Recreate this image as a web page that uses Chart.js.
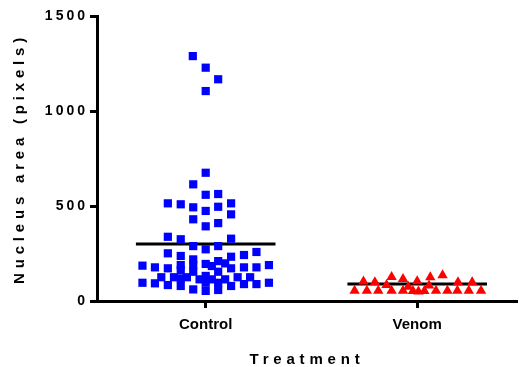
<!DOCTYPE html>
<html>
<head>
<meta charset="utf-8">
<script src="https://cdn.jsdelivr.net/npm/chart.js@4/dist/chart.umd.min.js"></script>
<style>
html,body{margin:0;padding:0;background:#fff;}
#wrap{width:523px;height:367px;position:relative;}
</style>
</head>
<body>
<div id="wrap"><canvas id="c"></canvas></div>
<script>
const categories = ['Control', 'Venom'];
const yTicks = [0, 500, 1000, 1500];
const means = [300, 90];

const controlValues = [1289,1228,1167,1105,
  675,614,559,563,
  514,509,493,474,496,514,
  456,430,410,393,
  338,325,328,
  289,272,289,251,237,233,242,258,
  186,177,172,189,219,189,195,210,198,172,177,177,189,163,154,184,154,
  125,125,119,125,114,132,114,114,125,125,
  96,93,84,79,96,96,79,89,89,96,
  61,53,58];
const controlJitter = [-0.061,0,0.059,0,
  0,-0.059,0,0.059,
  -0.179,-0.118,-0.059,0,0.059,0.120,
  0.120,-0.059,0.059,0,
  -0.179,-0.118,0.120,
  -0.059,0,0.059,-0.179,-0.118,0.120,0.181,0.240,
  -0.299,-0.240,-0.179,-0.118,-0.059,-0.059,0,0.059,0.092,0.120,0.181,0.240,0.299,-0.118,-0.059,0.029,0.059,
  -0.210,-0.150,-0.118,-0.089,-0.029,0,0.029,0.092,0.151,0.210,
  -0.299,-0.240,-0.179,-0.118,0,0.059,0.120,0.181,0.240,0.299,
  -0.059,0,0.059];

const venomValues = [102,99,126,116,104,125,136,99,99,
  84,81,75,
  54,54,54,54,54,52,50,52,54,54,54,54,54];
const venomJitter = [-0.254,-0.200,-0.121,-0.067,0,0.062,0.120,0.193,0.260,
  -0.145,0.056,-0.042,
  -0.296,-0.238,-0.184,-0.121,-0.067,-0.020,0.006,0.034,0.089,0.143,0.190,0.244,0.302];

const pts = (vals, jit, cat) => vals.map((v, i) => ({x: cat + jit[i], y: v}));
const meanLine = (m, cat) => [{x: cat - 0.33, y: m}, {x: cat + 0.33, y: m}];

const spacingPlugin = {
  id: 'spacing',
  afterUpdate(chart) {
    const patch = (scale, method, sp) => {
      if (scale['_p_' + method]) return;
      const orig = scale[method];
      scale[method] = function () {
        const ctx = this.ctx;
        ctx.save();
        ctx.letterSpacing = sp;
        orig.apply(this, arguments);
        ctx.restore();
      };
      scale['_p_' + method] = true;
    };
    patch(chart.scales.x, 'drawTitle', '4.8px');
    patch(chart.scales.y, 'drawTitle', '4.8px');
    patch(chart.scales.y, 'drawLabels', '3px');
  }
};

new Chart(document.getElementById('c'), {
  type: 'scatter',
  data: {
    datasets: [
      {data: pts(controlValues, controlJitter, 1), pointStyle: 'rect', pointRadius: 5.8, pointHoverRadius: 5.8,
       backgroundColor: '#0000FF', borderWidth: 0, order: 1},
      {data: pts(venomValues, venomJitter, 2), pointStyle: 'triangle', pointRadius: 6, pointHoverRadius: 6,
       backgroundColor: '#FF0000', borderWidth: 0, order: 1},
      {data: meanLine(means[0], 1), showLine: true, borderColor: '#000', borderWidth: 3, pointRadius: 0, order: 2},
      {data: meanLine(means[1], 2), showLine: true, borderColor: '#000', borderWidth: 3, pointRadius: 0, order: 2}
    ]
  },
  options: {
    responsive: true,
    maintainAspectRatio: false,
    animation: false,
    events: [],
    layout: {padding: {top: 16, right: 1, bottom: 0, left: 0}},
    plugins: {legend: {display: false}, tooltip: {enabled: false}},
    scales: {
      x: {
        type: 'linear',
        min: 0.486, max: 2.472,
        afterBuildTicks: s => { s.ticks = categories.map((c, i) => ({value: i + 1})); },
        afterFit: s => { s.height = 66; },
        ticks: {
          callback: v => categories[v - 1] ?? '',
          font: {family: 'Liberation Sans, Arial', size: 15, weight: 'bold', lineHeight: 1},
          color: '#000', padding: 9, autoSkip: false, maxRotation: 0
        },
        grid: {display: true, drawOnChartArea: false, drawTicks: true, tickLength: 7, tickWidth: 3, tickColor: '#000'},
        border: {display: true, color: '#000', width: 3},
        title: {display: true, text: 'Treatment', color: '#000',
          font: {family: 'Liberation Sans, Arial', size: 15, weight: 'bold', lineHeight: 1},
          padding: {top: 0, bottom: 0}}
      },
      y: {
        min: 0, max: 1500,
        afterBuildTicks: s => { s.ticks = yTicks.map(v => ({value: v})); },
        afterFit: s => { s.width = 97; },
        ticks: {
          callback: v => String(v),
          font: {family: 'Liberation Sans, Arial', size: 14, weight: 'bold'},
          color: '#000', padding: 2
        },
        grid: {display: true, drawOnChartArea: false, drawTicks: true, tickLength: 7, tickWidth: 3, tickColor: '#000'},
        border: {display: true, color: '#000', width: 3},
        title: {display: true, text: 'Nucleus area (pixels)', color: '#000',
          font: {family: 'Liberation Sans, Arial', size: 15, weight: 'bold', lineHeight: 1},
          padding: {top: 12.5, bottom: 0}}
      }
    }
  },
  plugins: [spacingPlugin]
});
</script>
</body>
</html>
